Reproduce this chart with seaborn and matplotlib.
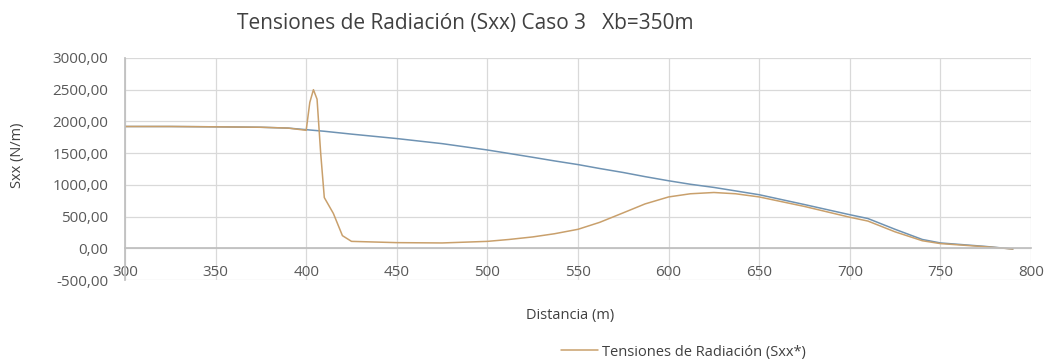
"""
Tensiones de Radiación (Sxx) - Caso 3, Xb=350m
Recreación del gráfico con seaborn.
"""
import numpy as np
import pandas as pd
import matplotlib
matplotlib.use("Agg")
import matplotlib.pyplot as plt
import seaborn as sns
from matplotlib.ticker import FuncFormatter, MultipleLocator

# Datos
distancia = [300, 325, 350, 375, 390, 400, 402, 404, 406, 408, 410, 415, 420, 425,
             450, 475, 500, 512, 525, 537, 550, 562, 575, 587, 600, 612, 625, 637,
             650, 675, 700, 710, 725, 740, 750, 775, 790]
sxx_ref = [1920, 1920, 1915, 1908, 1895, 1870, 1865, 1860, 1855, 1850, 1845, 1830,
           1815, 1800, 1730, 1650, 1550, 1495, 1435, 1378, 1320, 1258, 1195, 1130,
           1065, 1010, 960, 905, 845, 690, 530, 470, 300, 140, 85, 30, -10]
sxx_caso = [1920, 1920, 1915, 1908, 1895, 1860, 2300, 2500, 2350, 1500, 800, 550,
            200, 110, 90, 85, 110, 140, 180, 230, 300, 410, 560, 700, 810, 860, 880,
            860, 810, 660, 490, 430, 260, 120, 75, 25, -10]

titulo = "Tensiones de Radiación (Sxx) Caso 3   Xb=350m"
etiqueta_x = "Distancia (m)"
etiqueta_y = "Sxx (N/m)"
leyenda = "Tensiones de Radiación (Sxx*)"

df = pd.DataFrame({"dist": distancia, "ref": sxx_ref, "caso": sxx_caso})

sns.set_theme(style="whitegrid")
plt.rcParams["font.family"] = ["Open Sans", "DejaVu Sans"]

fig = plt.figure(figsize=(10.45, 3.6), dpi=100)
ax = fig.add_axes([0.1196, 0.222, 0.867, 0.617])

sns.lineplot(data=df, x="dist", y="ref", ax=ax, color="#6f93b3", linewidth=1.1)
sns.lineplot(data=df, x="dist", y="caso", ax=ax, color="#c9a06c", linewidth=1.1,
             label=leyenda)

ax.set_xlim(300, 800)
ax.set_ylim(-500, 3000)
ax.xaxis.set_major_locator(MultipleLocator(50))
ax.yaxis.set_major_locator(MultipleLocator(500))
ax.yaxis.set_major_formatter(FuncFormatter(lambda v, p: f"{v:.2f}".replace(".", ",")))
ax.grid(True, color="#d9d9d9", linewidth=0.9)
ax.set_xlabel("")
ax.set_ylabel("")

for s in ["top", "right"]:
    ax.spines[s].set_visible(False)
ax.spines["bottom"].set_position(("data", 0))
ax.spines["bottom"].set_color("#bfbfbf")
ax.spines["left"].set_color("#bfbfbf")
ax.tick_params(axis="both", length=0, labelsize=11, colors="#595959")
ax.tick_params(axis="y", pad=12)
ax.tick_params(axis="x", pad=12)

fig.text(0.445, 0.936, titulo, ha="center", va="center", fontsize=15, color="#404040")
fig.text(0.546, 0.125, etiqueta_x, ha="center", va="center", fontsize=10.5, color="#404040")
fig.text(0.017, 0.57, etiqueta_y, ha="center", va="center", rotation=90,
         fontsize=10.5, color="#404040")

ax.legend(loc="center", bbox_to_anchor=(0.654, 0.022), bbox_transform=fig.transFigure,
          frameon=False, fontsize=10.5, handlelength=2.5, handletextpad=0.3,
          labelcolor="#404040")

fig.savefig("out.png", dpi=100, facecolor="white")
